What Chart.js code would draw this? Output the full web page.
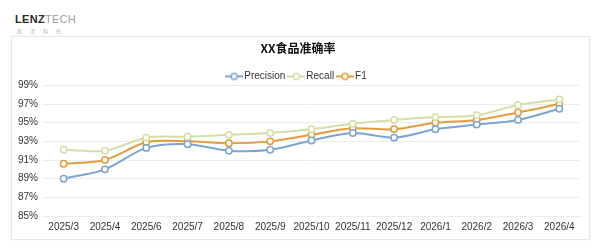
<!DOCTYPE html>
<html>
<head>
<meta charset="utf-8">
<script src="https://cdn.jsdelivr.net/npm/chart.js@4/dist/chart.umd.min.js"></script>
<style>
  html, body { margin: 0; padding: 0; background: #ffffff; width: 600px; height: 250px; overflow: hidden; }
  #logo { position: absolute; left: 15px; top: 10px; font-family: "Liberation Sans", Arial, sans-serif; line-height: 1; }
  #logo .a { font-weight: bold; color: #2a2a2a; font-size: 11px; letter-spacing: 0.3px; }
  #logo .b { color: #a0a0a0; font-size: 11px; letter-spacing: 0.3px; }
  #logo .c { font-family: "Noto Sans CJK SC", sans-serif; color: #b5b5b5; font-size: 5px; letter-spacing: 8px; margin-top: 2px; padding-left: 2px; }
  #card { position: absolute; left: 11px; top: 36px; width: 577px; height: 202px; border: 1px solid #e8e8e8; box-shadow: 0 0 2px rgba(0,0,0,0.06); background: #fff; }
  #wrap { position: absolute; left: 0; top: 0; width: 577px; height: 202px; }
</style>
</head>
<body>
<div id="logo"><div><span class="a">LENZ</span><span class="b">TECH</span></div><div class="c">联泽科技</div></div>
<div id="card"><div id="wrap"><canvas id="c"></canvas></div></div>
<script>
const categories = ["2025/3","2025/4","2025/6","2025/7","2025/8","2025/9","2025/10","2025/11","2025/12","2026/1","2026/2","2026/3","2026/4"];
const precision = [89.0, 90.0, 92.3, 92.7, 92.0, 92.1, 93.1, 93.9, 93.4, 94.3, 94.8, 95.3, 96.5];
const recall    = [92.1, 92.0, 93.4, 93.5, 93.7, 93.9, 94.3, 94.9, 95.3, 95.6, 95.8, 96.9, 97.5];
const f1        = [90.6, 91.0, 92.9, 93.0, 92.8, 93.0, 93.7, 94.4, 94.3, 95.0, 95.3, 96.1, 97.0];
const yTicks = [85, 87, 89, 91, 93, 95, 97, 99];
const seriesNames = ["Precision", "Recall", "F1"];
const colors = ["#7ba5d4", "#d5dea6", "#e39d3c"];

function legendIcon(color) {
  const cv = document.createElement('canvas');
  cv.width = 18; cv.height = 10;
  const g = cv.getContext('2d');
  g.strokeStyle = color; g.lineWidth = 2;
  g.beginPath(); g.moveTo(0, 5); g.lineTo(18, 5); g.stroke();
  g.fillStyle = '#fff'; g.lineWidth = 1.5;
  g.beginPath(); g.arc(9, 5, 3, 0, Math.PI * 2); g.fill(); g.stroke();
  return cv;
}
const icons = colors.map(legendIcon);

const makeDs = (label, data, color) => ({
  label, data,
  borderColor: color,
  backgroundColor: '#ffffff',
  borderWidth: 2,
  pointRadius: 3.2,
  pointBorderWidth: 1.5,
  pointBackgroundColor: '#ffffff',
  pointBorderColor: color,
  tension: 0.3,
  fill: false
});

const legendTrim = {
  id: 'legendTrim',
  afterInit(chart) {
    const lg = chart.legend;
    if (!lg) return;
    const orig = lg.fit;
    lg.fit = function () { orig.call(this); this.height -= 6; };
  }
};

new Chart(document.getElementById('c'), {
  type: 'line',
  data: {
    labels: categories,
    datasets: [
      makeDs(seriesNames[0], precision, colors[0]),
      makeDs(seriesNames[1], recall, colors[1]),
      makeDs(seriesNames[2], f1, colors[2])
    ]
  },
  plugins: [legendTrim],
  options: {
    responsive: true,
    maintainAspectRatio: false,
    animation: false,
    layout: { padding: { left: 4, right: 9, top: 0, bottom: 0 } },
    plugins: {
      title: {
        display: true,
        text: 'XX食品准确率',
        color: '#111',
        font: { family: '"Noto Sans CJK SC", "Liberation Sans", sans-serif', size: 12, weight: 'bold' },
        padding: { top: 4, bottom: 10 }
      },
      legend: {
        display: true,
        labels: {
          usePointStyle: true,
          color: '#333',
          font: { family: '"Liberation Sans", Arial, sans-serif', size: 10 },
          padding: 6,
          boxHeight: 10,
          generateLabels: (chart) => chart.data.datasets.map((ds, i) => ({
            text: ds.label, pointStyle: icons[i], fillStyle: colors[i], strokeStyle: colors[i],
            lineWidth: 0, hidden: false, datasetIndex: i, fontColor: '#333'
          }))
        }
      },
      tooltip: { enabled: false }
    },
    scales: {
      x: {
        offset: true,
        grid: { display: false, drawTicks: false },
        border: { display: true, color: '#ececec' },
        afterFit: (axis) => { axis.height = 23; },
        ticks: { color: '#333', font: { family: '"Liberation Sans", Arial, sans-serif', size: 10 }, maxRotation: 0, autoSkip: false, padding: 5 }
      },
      y: {
        min: 85, max: 99,
        afterBuildTicks: (axis) => { axis.ticks = yTicks.map(v => ({ value: v })); },
        afterFit: (axis) => { axis.width = 27; },
        grid: { color: '#ececec', drawTicks: false },
        border: { display: false },
        ticks: { color: '#333', padding: 5, font: { family: '"Liberation Sans", Arial, sans-serif', size: 10 }, callback: (v) => v + '%' }
      }
    }
  }
});
</script>
</body>
</html>
